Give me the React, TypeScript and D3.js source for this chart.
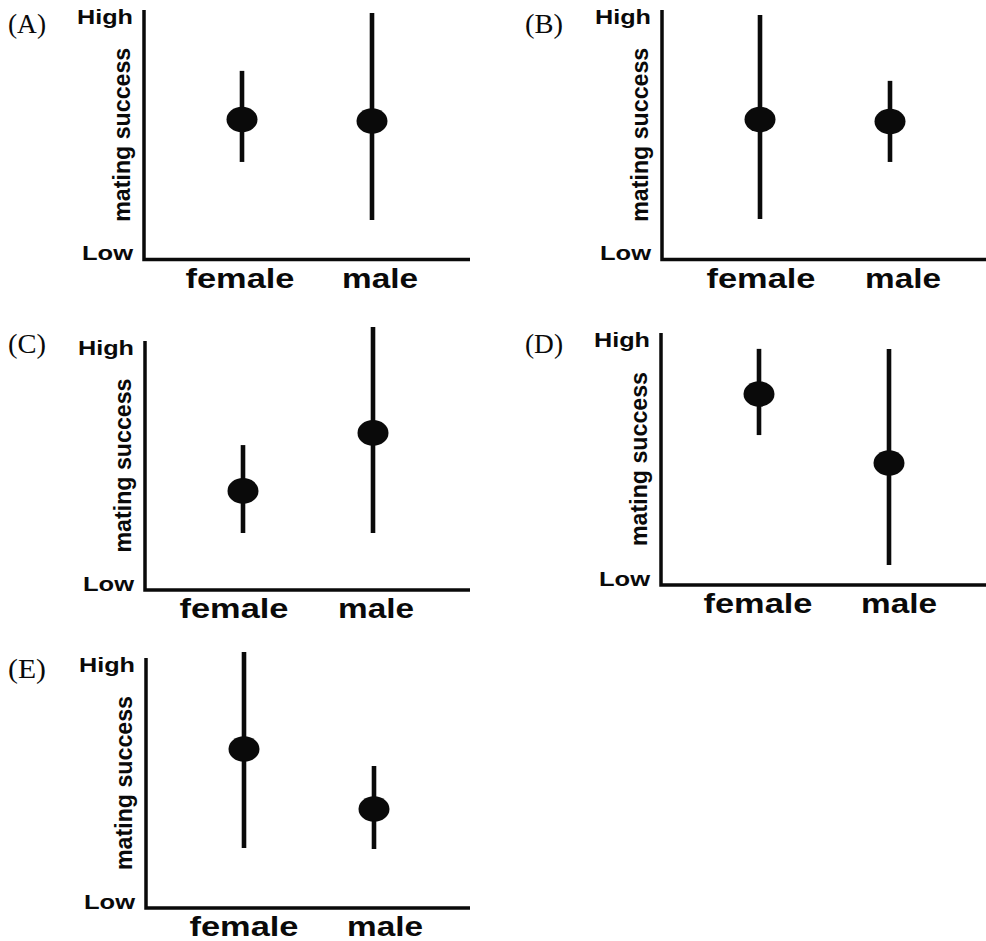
import React from "react";
import * as d3 from "d3";

// ---- data (relative mating success, 0 = Low, 1 = High) ----
const panelLabels = ["(A)", "(B)", "(C)", "(D)", "(E)"];
const categories = ["female", "male"];
const yTickLabels = ["Low", "High"];
const yAxisTitle = "mating success";

const femaleMean = [0.561, 0.561, 0.398, 0.758, 0.636];
const femaleLow = [0.391, 0.162, 0.229, 0.595, 0.24];
const femaleHigh = [0.756, 0.98, 0.582, 0.937, 1.024];

const maleMean = [0.555, 0.553, 0.631, 0.484, 0.396];
const maleLow = [0.158, 0.391, 0.229, 0.079, 0.236];
const maleHigh = [0.988, 0.716, 1.056, 0.937, 0.568];

// ---- layout (pixel positions of each panel) ----
const layout = [
  { axisX: 144, top: 10, bottom: 259.5, right: 470, tx: 8, ty: 33, fdx: 96, mdx: 236 },
  { axisX: 662, top: 10, bottom: 259.5, right: 986, tx: 525, ty: 33, fdx: 99, mdx: 241 },
  { axisX: 145, top: 341, bottom: 590, right: 470, tx: 8, ty: 353, fdx: 89, mdx: 231 },
  { axisX: 661, top: 333, bottom: 585, right: 986, tx: 525, ty: 353, fdx: 97, mdx: 238 },
  { axisX: 146, top: 658, bottom: 908, right: 470, tx: 8, ty: 678, fdx: 98, mdx: 239 },
];

const W = 986;
const H = 941;
const SANS = "Liberation Sans, Arial, Helvetica, sans-serif";
const SERIF = "Liberation Serif, Times New Roman, serif";
const INK = "#0a0a0a";

function Panel({ i }: { i: number }) {
  const L = layout[i];
  const y = d3.scaleLinear().domain([0, 1]).range([L.bottom, L.top]);
  const x = d3
    .scalePoint<string>()
    .domain(categories)
    .range([L.axisX + 98, L.axisX + 228]);

  const series = [
    { cat: "female", mean: femaleMean[i], lo: femaleLow[i], hi: femaleHigh[i] },
    { cat: "male", mean: maleMean[i], lo: maleLow[i], hi: maleHigh[i] },
  ];
  const axisPath = d3.path();
  axisPath.moveTo(L.axisX, L.top);
  axisPath.lineTo(L.axisX, L.bottom);
  axisPath.lineTo(L.right, L.bottom);

  return (
    <g>
      <text x={L.tx} y={L.ty} fontFamily={SERIF} fontSize={27} fill={INK} textLength={38} lengthAdjust="spacingAndGlyphs">
        {panelLabels[i]}
      </text>
      <path d={axisPath.toString()} fill="none" stroke={INK} strokeWidth={3.5} strokeLinejoin="miter" />
      <text
        x={L.axisX - 11}
        y={y(1) + 14}
        textAnchor="end"
        fontFamily={SANS}
        fontWeight="bold"
        fontSize={20}
        textLength={56}
        lengthAdjust="spacingAndGlyphs"
        fill={INK}
      >
        {yTickLabels[1]}
      </text>
      <text
        x={L.axisX - 11}
        y={y(0) + 0.5}
        textAnchor="end"
        fontFamily={SANS}
        fontWeight="bold"
        fontSize={20}
        textLength={51}
        lengthAdjust="spacingAndGlyphs"
        fill={INK}
      >
        {yTickLabels[0]}
      </text>
      <text
        transform={`translate(${L.axisX - 14},${(L.top + L.bottom) / 2}) rotate(-90)`}
        textAnchor="middle"
        fontFamily={SANS}
        fontWeight="bold"
        fontSize={23}
        textLength={174}
        lengthAdjust="spacingAndGlyphs"
        fill={INK}
      >
        {yAxisTitle}
      </text>
      {series.map((s) => (
        <g key={s.cat}>
          <line x1={x(s.cat)} x2={x(s.cat)} y1={y(s.hi)} y2={y(s.lo)} stroke={INK} strokeWidth={4.6} />
          <ellipse cx={x(s.cat)} cy={y(s.mean)} rx={15.5} ry={12.8} fill={INK} />
        </g>
      ))}
      <text
        x={L.axisX + L.fdx}
        y={L.bottom + 28}
        textAnchor="middle"
        fontFamily={SANS}
        fontWeight="bold"
        fontSize={27}
        textLength={109}
        lengthAdjust="spacingAndGlyphs"
        fill={INK}
      >
        {categories[0]}
      </text>
      <text
        x={L.axisX + L.mdx}
        y={L.bottom + 28}
        textAnchor="middle"
        fontFamily={SANS}
        fontWeight="bold"
        fontSize={27}
        textLength={76}
        lengthAdjust="spacingAndGlyphs"
        fill={INK}
      >
        {categories[1]}
      </text>
    </g>
  );
}

export default function App() {
  return (
    <svg
      width={W}
      height={H}
      viewBox={`0 0 ${W} ${H}`}
      style={{ position: "absolute", left: 0, top: 0, background: "#fff" }}
    >
      <rect width={W} height={H} fill="#fff" />
      {layout.map((_, i) => (
        <Panel key={i} i={i} />
      ))}
    </svg>
  );
}
